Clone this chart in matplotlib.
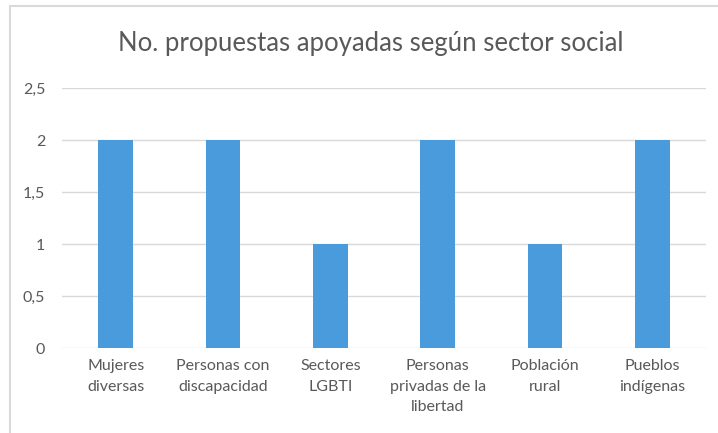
import numpy as np
import matplotlib.pyplot as plt
from matplotlib.patches import Rectangle

# data
categorias = ['Mujeres\ndiversas', 'Personas con\ndiscapacidad', 'Sectores\nLGBTI',
              'Personas\nprivadas de la\nlibertad', 'Población\nrural', 'Pueblos\nindígenas']
propuestas = [2, 2, 1, 2, 1, 2]
yticks = [0, 0.5, 1, 1.5, 2, 2.5]
ytick_labels = ['0', '0,5', '1', '1,5', '2', '2,5']

plt.rcParams['font.family'] = ['Lato', 'DejaVu Sans']

W, H = 718, 433
fig = plt.figure(figsize=(W / 100, H / 100), dpi=100)

# outer chart frame (partially cropped in the original)
fig.patches.append(Rectangle((10 / W, -0.1), 1.2, 1.1 - 6 / H, transform=fig.transFigure,
                             fill=False, edgecolor='#D9D9D9', linewidth=1.5))

ax = fig.add_axes([62 / W, (H - 348) / H, (706 - 62) / W, (348 - 88) / H])
x = np.arange(len(categorias))
ax.bar(x, propuestas, width=0.32, color='#4A9BDB', zorder=3)

ax.set_xlim(-0.5, len(categorias) - 0.5)
ax.set_ylim(0, 2.5)
ax.set_yticks(yticks)
ax.set_yticklabels(ytick_labels)
ax.set_xticks(x)
ax.set_xticklabels(categorias, linespacing=1.6)
ax.grid(axis='y', color='#D9D9D9', linewidth=1, zorder=0)
for s in ax.spines.values():
    s.set_visible(False)
ax.tick_params(axis='both', length=0, labelsize=11.5, colors='#595959')
ax.tick_params(axis='y', pad=12)
ax.tick_params(axis='x', pad=8)

fig.text(371 / W, 1 - 43 / H, 'No. propuestas apoyadas según sector social',
         ha='center', va='center', fontsize=18.5, color='#595959')

fig.savefig('out.png', dpi=100)
